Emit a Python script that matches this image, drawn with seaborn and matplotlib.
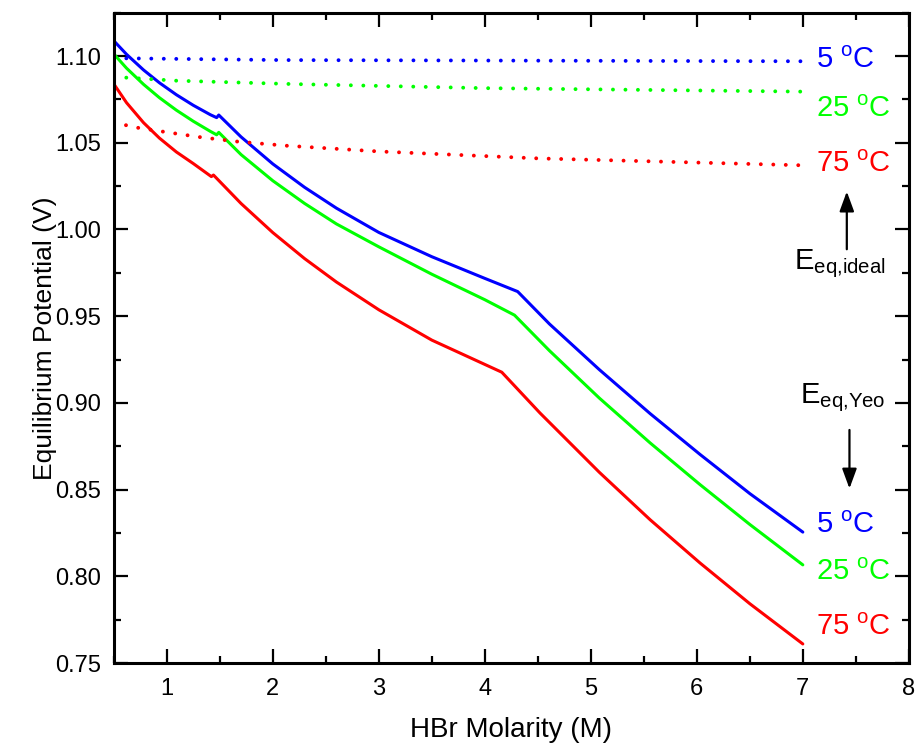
import pandas as pd
import numpy as np
import matplotlib
matplotlib.use("Agg")
import matplotlib.pyplot as plt
from matplotlib.ticker import MultipleLocator, FormatStrFormatter
import seaborn as sns

# Yeo model curves (solid)
x_5c = [0.5, 0.62, 0.78, 0.93, 1.09, 1.25, 1.41, 1.47, 1.49, 1.7, 2.0, 2.3, 2.6, 3.0, 3.5, 4.0, 4.31,
        4.61, 5.08, 5.56, 6.03, 6.5, 7.0]
y_5c = [1.1088, 1.1010, 1.0920, 1.0846, 1.0777, 1.0716, 1.0662, 1.0645, 1.066, 1.0534, 1.0378, 1.0243,
        1.0123, 0.9983, 0.9843, 0.9718, 0.9642, 0.9455, 0.9192, 0.8938, 0.8703, 0.8477, 0.8255]
x_25c = [0.5, 0.62, 0.78, 0.93, 1.09, 1.25, 1.41, 1.47, 1.49, 1.7, 2.0, 2.3, 2.6, 3.0, 3.5, 4.0, 4.28,
         4.61, 5.08, 5.56, 6.03, 6.5, 7.0]
y_25c = [1.1012, 1.0930, 1.0837, 1.0760, 1.0688, 1.0624, 1.0566, 1.0546, 1.056, 1.0432, 1.0281, 1.0150,
         1.0032, 0.9900, 0.9742, 0.9595, 0.9506, 0.9301, 0.9028, 0.8769, 0.8529, 0.8299, 0.8066]
x_75c = [0.5, 0.62, 0.78, 0.93, 1.09, 1.25, 1.42, 1.44, 1.7, 2.0, 2.3, 2.6, 3.0, 3.5, 4.16,
         4.52, 5.08, 5.56, 6.03, 6.5, 7.0]
y_75c = [1.0839, 1.0731, 1.0616, 1.0527, 1.0447, 1.0380, 1.0305, 1.0314, 1.0150, 0.9982, 0.9832, 0.9697,
         0.9537, 0.9362, 0.9177, 0.8942, 0.8600, 0.8326, 0.8077, 0.7842, 0.7610]

# ideal curves (dotted)
xi_5c = [0.5, 0.62, 2.07, 7.0]
yi_5c = [1.0988, 1.0987, 1.0977, 1.097]
xi_25c = [0.5, 1.09, 2.16, 4.0, 7.0]
yi_25c = [1.088, 1.0858, 1.0839, 1.0815, 1.0795]
xi_75c = [0.5, 0.7, 1.01, 1.33, 1.68, 2.13, 3.0, 4.5, 7.0]
yi_75c = [1.0618, 1.0589, 1.056, 1.0531, 1.0506, 1.0483, 1.045, 1.041, 1.037]

temps = ["5", "25", "75"]
colors = ["#0000ff", "#00ff00", "#ff0000"]

sns.set_style("ticks")
plt.rcParams['font.family'] = ['Liberation Sans', 'DejaVu Sans']
plt.rcParams['mathtext.default'] = 'regular'
for k in ['text.color', 'axes.labelcolor', 'xtick.color', 'ytick.color', 'axes.edgecolor']:
    plt.rcParams[k] = 'black'

fig = plt.figure(figsize=(9.18, 7.48), dpi=100)
ax = fig.add_axes([0.124, 0.1136, 0.866, 0.8694])

yeo = [(x_5c, y_5c), (x_25c, y_25c), (x_75c, y_75c)]
ideal = [(xi_5c, yi_5c), (xi_25c, yi_25c), (xi_75c, yi_75c)]

for (xs, ys), c in zip(yeo, colors):
    df = pd.DataFrame({"M": xs, "E": ys})
    sns.lineplot(data=df, x="M", y="E", color=c, lw=2.2, ax=ax)

for (xs, ys), c in zip(ideal, colors):
    df = pd.DataFrame({"M": xs, "E": ys})
    sns.lineplot(data=df, x="M", y="E", color=c, lw=2.8, ax=ax,
                 linestyle=(0, (0.01, 3.2)), dash_capstyle="round")

ax.set_xlim(0.5, 8)
ax.set_ylim(0.75, 1.125)
ax.xaxis.set_major_locator(MultipleLocator(1))
ax.xaxis.set_minor_locator(MultipleLocator(0.5))
ax.yaxis.set_major_locator(MultipleLocator(0.05))
ax.yaxis.set_minor_locator(MultipleLocator(0.025))
ax.yaxis.set_major_formatter(FormatStrFormatter('%.2f'))
ax.tick_params(which='both', direction='in', top=True, right=True, width=1.6, labelsize=17)
ax.tick_params(which='major', length=10)
ax.tick_params(which='minor', length=5)
ax.tick_params(axis='y', which='major', pad=9)
ax.tick_params(axis='x', which='major', pad=11)
for s in ax.spines.values():
    s.set_linewidth(2.2)

ax.set_xlabel("HBr Molarity (M)", fontsize=20, labelpad=12)
ax.set_ylabel("Equilibrium Potential (V)", fontsize=19, labelpad=-1)

# temperature labels
top_y = [1.098, 1.0695, 1.0375]
bot_y = [0.8295, 0.8025, 0.7705]
for t, c, yt, yb in zip(temps, colors, top_y, bot_y):
    ax.text(7.12, yt, t + r" $^{o}$C", color=c, fontsize=21, ha='left', va='center')
    ax.text(7.12, yb, t + r" $^{o}$C", color=c, fontsize=21, ha='left', va='center')

arrow = dict(arrowstyle='-|>,head_length=0.6,head_width=0.22', color='black', lw=1.6,
             mutation_scale=20)
ax.text(7.35, 0.98, r"E$_{eq{,}ideal}$", fontsize=21, ha='center', va='center')
ax.annotate("", xy=(7.415, 1.0235), xytext=(7.415, 0.987), arrowprops=arrow)
ax.text(7.38, 0.903, r"E$_{eq{,}Yeo}$", fontsize=21, ha='center', va='center')
ax.annotate("", xy=(7.44, 0.849), xytext=(7.44, 0.886), arrowprops=arrow)

fig.savefig("out.png", dpi=100)
